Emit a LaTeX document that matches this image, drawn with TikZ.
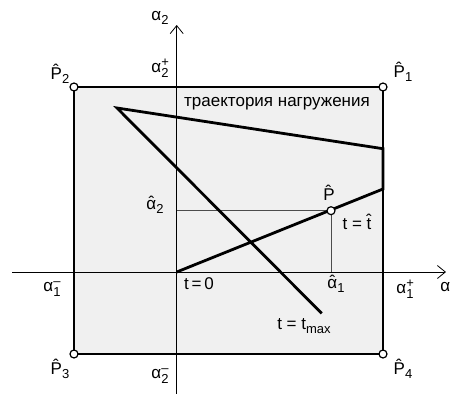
\documentclass[tikz,border=0pt]{standalone}
\usepackage{fontspec}
\setmainfont{Liberation Sans}
\usetikzlibrary{positioning,calc,arrows.meta}

\newcommand{\lo}[1]{\raisebox{-0.5ex}{\fontsize{13}{13}\selectfont #1}}
\newcommand{\hi}[1]{\raisebox{0.75ex}{\fontsize{13}{13}\selectfont #1}}
\newcommand{\losup}[2]{\rlap{\hi{#2}}\lo{#1}}
\newcommand{\hatx}[1]{\ooalign{#1\cr\hfil\raisebox{0.1ex}{ˆ}\hfil\cr}}

\begin{document}
\begin{tikzpicture}[
    x=1pt, y=-1pt,
    lbl/.style={font=\fontsize{17}{20}\selectfont, inner sep=0pt},
    vertex/.style={draw, circle, fill=white, minimum size=8pt, inner sep=0pt, line width=1.2pt},
    axis/.style={line width=0.8pt, -{Straight Barb[length=8pt,width=13pt]}},
    path/.style={line width=2.8pt, line join=miter},
    guide/.style={line width=0.7pt, black!70}
]
    \useasboundingbox (0,0) rectangle (451,394);

    % Domain
    \fill[black!6] (74,87) rectangle (383,354);
    \coordinate (c1) at (383,87);
    \coordinate (c2) at (74,87);
    \coordinate (c3) at (74,354);
    \coordinate (c4) at (383,354);

    % Axes
    \coordinate (xs) at (12,272);
    \coordinate (xe) at (446,272);
    \coordinate (ys) at (176.7,394);
    \coordinate (ye) at (176.7,25);
    \draw[axis] (xs) -- (xe);
    \draw[axis] (ys) -- (ye);
    \draw[line width=1.6pt] (c1) -- (c2) -- (c3) -- (c4) -- cycle;

    % Trajectory
    \coordinate (o) at (176.7,272);
    \coordinate (p) at (331,210.7);
    \coordinate (a) at (383,189);
    \coordinate (b) at (383,148.7);
    \coordinate (c) at (117,108);
    \coordinate (d) at (321.7,313.3);
    \coordinate (py) at (176.7,210.7);
    \coordinate (px) at (331,272);
    \draw[guide] (py) -- (p) -- (px);
    \draw[path] (o) -- (a) -- (b) -- (c) -- (d);

    % Points
    \node[vertex] (v1) at (c1) {};
    \node[vertex] (v2) at (c2) {};
    \node[vertex] (v3) at (c3) {};
    \node[vertex] (v4) at (c4) {};
    \node[vertex] (vp) at (p) {};

    % Labels
    \node[lbl] (l1) at (403,72) {\^{P}\lo{1}};
    \node[lbl] (l2) at (60,74) {\^{P}\lo{2}};
    \node[lbl] (l3) at (60,369) {\^{P}\lo{3}};
    \node[lbl] (l4) at (403,369) {\^{P}\lo{4}};
    \node[lbl] (lp) at (329,193) {\^{P}};
    \node[lbl] (ya) at (160,18) {α\lo{2}};
    \node[lbl] (yp) at (160,68) {α\losup{2}{+}};
    \node[lbl] (ym) at (160,376) {α\losup{2}{–}};
    \node[lbl] (yh) at (155,207) {\hatx{α}\lo{2}};
    \node[lbl] (xa) at (449,289) {α\lo{1}};
    \node[lbl] (xp) at (405,289) {α\losup{1}{+}};
    \node[lbl] (xm) at (52,289) {α\losup{1}{–}};
    \node[lbl] (xh) at (336,286) {\hatx{α}\lo{1}};
    \node[lbl] (t0) at (199,284) {t\,=\,0};
    \node[lbl] (th) at (357,222) {t = \^{t}};
    \node[lbl] (tm) at (304,326) {t = t\lo{max}};
    \node[lbl] (tr) at (277,104) {траектория нагружения};
\end{tikzpicture}
\end{document}
